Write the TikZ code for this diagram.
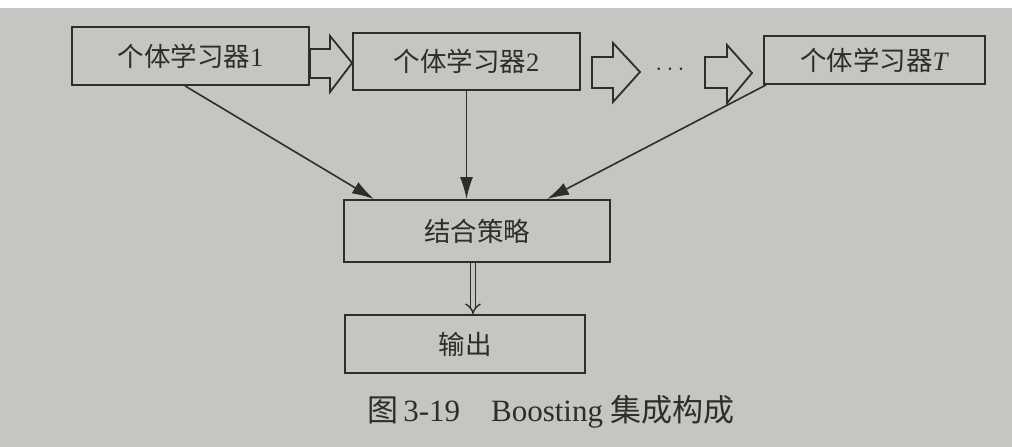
\documentclass[tikz,border=0pt]{standalone}
\usepackage{fontspec}
\setmainfont{Liberation Serif}
\newfontfamily\cjk{Noto Sans CJK SC}
\usetikzlibrary{arrows.meta}
\definecolor{paper}{RGB}{196,198,193}
\definecolor{ink}{RGB}{45,45,45}
\begin{document}
\begin{tikzpicture}[x=1pt,y=-1pt,
  box/.style={draw=ink, line width=1.8pt, rectangle, inner sep=0pt, text=ink, font=\fontsize{26.5}{30}\selectfont},
  conn/.style={draw=ink, line width=1.6pt, -{Latex[length=22pt,width=13pt]}},
  hollow/.style={draw=ink, line width=1.8pt, line join=miter, fill=paper},
  dbl/.style={draw=ink, line width=1.4pt, double=paper, double distance=4pt, -{Implies}}]
\fill[white] (0,0) rectangle (1012,447);
\fill[paper] (0,8) rectangle (1012,447);
\useasboundingbox (0,0) rectangle (1012,447);
% nodes
\node[box, minimum width=237pt, minimum height=58pt] (l1) at (190.5,56) {{\cjk 个体学习器}1};
\node[box, minimum width=227pt, minimum height=57pt] (l2) at (466.5,61.5) {{\cjk 个体学习器}2};
\node[box, minimum width=221pt, minimum height=48pt] (lT) at (874.5,60) {{\cjk 个体学习器}\textit{T}};
\node[text=ink, font=\fontsize{26}{30}\selectfont] (dots) at (670,70) {$\cdots$};
\node[box, minimum width=266pt, minimum height=62pt] (comb) at (477,231) {{\cjk 结合策略}};
\node[box, minimum width=240pt, minimum height=58pt] (out) at (465,344) {{\cjk 输出}};
\node[text=ink, font=\fontsize{31}{36}\selectfont] (cap) at (551,412) {{\cjk 图}\,3-19\quad Boosting {\cjk 集成构成}};
% hollow arrows
\draw[hollow] (l1.east |- 0,49) -- (330,49) -- (330,36) -- (l2.west |- 0,63) -- (330,92) -- (330,78) -- (l1.east |- 0,78) -- cycle;
\draw[hollow] (592,57) -- (613,57) -- (613,43) -- (640,72) -- (613,102) -- (613,88) -- (592,88) -- cycle;
\draw[hollow] (705,57) -- (727,57) -- (727,45) -- (752,73) -- (727,103) -- (727,88) -- (705,88) -- cycle;
% connectors
\draw[conn] ([xshift=-5.5pt]l1.south) -- ([xshift=-103pt]comb.north);
\draw[conn] (l2.south) -- (l2.south |- comb.north);
\draw[conn] ([xshift=3pt]lT.south west) -- ([xshift=70pt]comb.north);
\draw[dbl] ([xshift=-4pt]comb.south) -- ([xshift=-4pt]comb.south |- out.north);
\end{tikzpicture}
\end{document}
